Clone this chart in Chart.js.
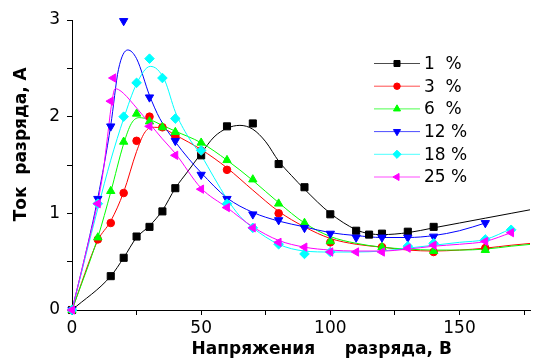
<!DOCTYPE html>
<html><head><meta charset="utf-8">
<script src="https://cdn.jsdelivr.net/npm/chart.js@4/dist/chart.umd.min.js"></script>
<style>html,body{margin:0;padding:0;background:#fff;overflow:hidden}canvas{display:block}</style>
</head><body>
<canvas id="c" width="536" height="360"></canvas>
<script>
// ---- data ----
const seriesLabels = ['1  %', '3  %', '6  %', '12 %', '18 %', '25 %'];
const seriesColors = ['#000000', '#ff0000', '#00ff00', '#0000ff', '#00ffff', '#ff00ff'];

// measured points (markers)
const mark1X = [0, 15, 20, 25, 30, 35, 40, 50, 60, 70, 80, 90, 100, 110, 115, 120, 130, 140];
const mark1Y = [0, 0.35, 0.54, 0.76, 0.86, 1.02, 1.26, 1.60, 1.90, 1.93, 1.51, 1.27, 0.99, 0.82, 0.78, 0.79, 0.81, 0.86];
const mark3X = [0, 10, 15, 20, 25, 30, 35, 40, 50, 60, 80, 100, 120, 140, 160];
const mark3Y = [0, 0.73, 0.90, 1.21, 1.75, 2.00, 1.89, 1.80, 1.65, 1.45, 1.00, 0.70, 0.65, 0.60, 0.64];
const mark6X = [0, 10, 15, 20, 25, 30, 35, 40, 50, 60, 70, 80, 90, 100, 120, 140, 160];
const mark6Y = [0, 0.75, 1.23, 1.74, 2.03, 1.95, 1.89, 1.84, 1.73, 1.55, 1.35, 1.10, 0.90, 0.71, 0.65, 0.61, 0.62];
const mark12X = [0, 10, 15, 20, 30, 40, 50, 60, 70, 80, 90, 100, 110, 120, 130, 140, 160];
const mark12Y = [0, 1.15, 1.90, 2.99, 2.20, 1.75, 1.40, 1.15, 0.99, 0.93, 0.85, 0.79, 0.75, 0.75, 0.75, 0.76, 0.90];
const mark18X = [0, 10, 20, 25, 30, 35, 40, 50, 60, 70, 80, 90, 100, 130, 140, 160, 170];
const mark18Y = [0, 1.10, 2.00, 2.35, 2.60, 2.40, 1.98, 1.65, 1.10, 0.85, 0.68, 0.58, 0.60, 0.66, 0.69, 0.73, 0.83];
const mark25X = [0, 10, 15, 16, 30, 40, 50, 60, 70, 80, 90, 100, 110, 120, 130, 140, 160, 170];
const mark25Y = [0, 1.10, 2.16, 2.40, 1.90, 1.60, 1.25, 1.06, 0.85, 0.70, 0.65, 0.60, 0.60, 0.60, 0.64, 0.67, 0.71, 0.80];

// fitted curves
const curve1X = [0, 15, 20, 25, 30, 35, 40, 45, 50, 55, 60, 65, 70, 75, 80, 85, 90, 100, 110, 115, 120, 130, 140, 150, 160, 170, 178];
const curve1Y = [0, 0.35, 0.54, 0.75, 0.87, 1.03, 1.26, 1.44, 1.62, 1.79, 1.88, 1.91, 1.87, 1.74, 1.54, 1.39, 1.25, 1.00, 0.83, 0.79, 0.78, 0.80, 0.85, 0.90, 0.95, 1.00, 1.04];
const curve3X = [0, 10, 15, 20, 25, 28, 31, 35, 40, 50, 60, 70, 80, 90, 100, 110, 120, 130, 140, 150, 160, 170, 178];
const curve3Y = [0, 0.72, 0.92, 1.22, 1.64, 1.83, 1.89, 1.88, 1.81, 1.66, 1.47, 1.24, 1.02, 0.86, 0.74, 0.68, 0.65, 0.62, 0.61, 0.62, 0.64, 0.67, 0.69];
const curve6X = [0, 10, 15, 20, 23, 26, 30, 35, 40, 50, 60, 70, 80, 90, 100, 110, 120, 130, 140, 150, 160, 170, 178];
const curve6Y = [0, 0.75, 1.22, 1.72, 1.93, 1.99, 1.97, 1.91, 1.85, 1.73, 1.55, 1.34, 1.11, 0.90, 0.76, 0.69, 0.65, 0.63, 0.62, 0.62, 0.63, 0.66, 0.68];
const curve12X = [0, 5, 10, 15, 18, 21.6, 25, 30, 34, 40, 45, 50, 60, 70, 80, 90, 100, 110, 120, 130, 140, 150, 160];
const curve12Y = [0, 0.55, 1.16, 1.91, 2.49, 2.69, 2.60, 2.22, 1.98, 1.74, 1.57, 1.42, 1.16, 1.01, 0.92, 0.86, 0.80, 0.77, 0.75, 0.75, 0.77, 0.82, 0.90];
const curve18X = [0, 10, 15, 20, 25, 30.3, 33, 36, 40, 45, 50, 55, 60, 65, 70, 80, 90, 100, 110, 120, 130, 140, 150, 160, 170];
const curve18Y = [0, 1.05, 1.55, 1.98, 2.34, 2.52, 2.49, 2.37, 2.05, 1.79, 1.60, 1.37, 1.15, 0.97, 0.85, 0.68, 0.61, 0.60, 0.60, 0.61, 0.64, 0.67, 0.70, 0.73, 0.84];
const curve25X = [0, 5, 10, 12, 14, 15, 16.7, 18, 20, 25, 30, 35, 40, 50, 60, 70, 80, 90, 100, 110, 120, 130, 140, 150, 160, 170];
const curve25Y = [0, 0.55, 1.12, 1.42, 1.85, 2.07, 2.29, 2.28, 2.24, 2.09, 1.93, 1.77, 1.62, 1.26, 1.06, 0.86, 0.72, 0.65, 0.62, 0.61, 0.61, 0.63, 0.66, 0.68, 0.71, 0.80];

const xTitle = '       Напряжения     разряда, В';
const yTitle = '       Ток  разряда, А';
// ---------------------------------------

const FONT = "'DejaVu Sans', sans-serif";
const markX = [mark1X, mark3X, mark6X, mark12X, mark18X, mark25X];
const markY = [mark1Y, mark3Y, mark6Y, mark12Y, mark18Y, mark25Y];
const curveX = [curve1X, curve3X, curve6X, curve12X, curve18X, curve25X];
const curveY = [curve1Y, curve3Y, curve6Y, curve12Y, curve18Y, curve25Y];
const styles = [
  {ps: 'rect', rot: 0, r: 5},
  {ps: 'circle', rot: 0, r: 3.8},
  {ps: 'triangle', rot: 0, r: 4.8},
  {ps: 'triangle', rot: 180, r: 4.8},
  {ps: 'rectRot', rot: 0, r: 4.8},
  {ps: 'triangle', rot: -90, r: 4.8}
];
const pts = (xs, ys) => xs.map((x, i) => ({x: x, y: ys[i]}));

const datasets = [];
for (let i = 0; i < 6; i++) {
  datasets.push({
    label: seriesLabels[i],
    data: pts(markX[i], markY[i]),
    showLine: false,
    pointStyle: styles[i].ps,
    pointRotation: styles[i].rot,
    pointRadius: styles[i].r,
    backgroundColor: seriesColors[i],
    borderColor: seriesColors[i],
    borderWidth: 1,
    order: 5 - i,
    clip: false,
    isMarker: true
  });
  datasets.push({
    label: seriesLabels[i] + ' fit',
    data: pts(curveX[i], curveY[i]),
    showLine: true,
    pointRadius: 0,
    borderColor: seriesColors[i],
    backgroundColor: seriesColors[i],
    borderWidth: 1,
    cubicInterpolationMode: 'monotone',
    order: 20 - i
  });
}

const legendPlugin = {
  id: 'inLegend',
  afterDraw(chart) {
    const ctx = chart.ctx;
    const x0 = 374, x1 = 420, xm = 397, xt = 424, y0 = 63.5, dy = 22.7;
    ctx.save();
    chart.data.datasets.filter(d => d.isMarker).forEach((d, i) => {
      const y = y0 + dy * i;
      ctx.globalAlpha = 0.7;
      ctx.strokeStyle = d.borderColor;
      ctx.lineWidth = 1;
      ctx.beginPath(); ctx.moveTo(x0, y); ctx.lineTo(x1, y); ctx.stroke();
      ctx.globalAlpha = 1;
      ctx.fillStyle = d.backgroundColor;
      ctx.strokeStyle = d.borderColor;
      Chart.helpers.drawPoint(ctx, {pointStyle: d.pointStyle, rotation: d.pointRotation, radius: d.pointRadius * 0.85, borderWidth: 1}, xm, y);
      ctx.fillStyle = '#000';
      ctx.font = '17px ' + FONT;
      ctx.textAlign = 'left';
      ctx.textBaseline = 'middle';
      ctx.fillText(d.label, xt, y + 1);
    });
    ctx.restore();
  }
};

new Chart(document.getElementById('c'), {
  type: 'scatter',
  data: {datasets: datasets},
  options: {
    responsive: false,
    animation: false,
    events: [],
    layout: {padding: {top: 20, right: 0, bottom: 0, left: 0}},
    plugins: {legend: {display: false}, tooltip: {enabled: false}},
    scales: {
      x: {
        type: 'linear', min: 0, max: 177.3,
        ticks: {stepSize: 25, includeBounds: false, autoSkip: false, maxRotation: 0, color: '#000',
          font: {family: FONT, size: 17}, padding: 3,
          callback: v => (v % 50 === 0 ? String(v) : '')},
        grid: {drawOnChartArea: false, drawTicks: true, tickLength: 5, color: '#000'},
        border: {color: '#000', width: 1},
        title: {display: true, text: xTitle, color: '#000', font: {family: FONT, size: 17, weight: 'bold'}, padding: {top: 0, bottom: 0}},
        afterFit(s) { s.height = 50; }
      },
      y: {
        type: 'linear', min: 0, max: 3,
        ticks: {stepSize: 0.5, color: '#000', font: {family: FONT, size: 17}, padding: 7,
          callback: v => (Number.isInteger(v) ? String(v) : '')},
        grid: {drawOnChartArea: false, drawTicks: true, tickLength: 5, color: '#000'},
        border: {color: '#000', width: 1},
        title: {display: true, text: yTitle, color: '#000', font: {family: FONT, size: 17, weight: 'bold'}, padding: {top: 11, bottom: 0}},
        afterFit(s) { s.width = 72; }
      }
    }
  },
  plugins: [legendPlugin]
});
</script>
</body></html>
